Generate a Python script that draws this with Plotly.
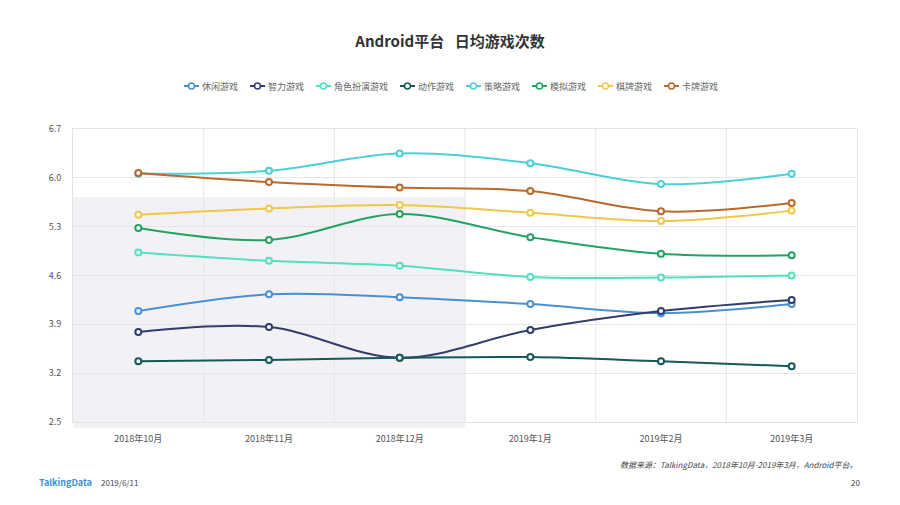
import plotly.graph_objects as go

months = ["2018年10月", "2018年11月", "2018年12月", "2019年1月", "2019年2月", "2019年3月"]

casual = [4.09, 4.33, 4.29, 4.19, 4.06, 4.19]        # 休闲游戏
puzzle = [3.79, 3.86, 3.42, 3.82, 4.09, 4.25]        # 智力游戏
rpg = [4.93, 4.81, 4.74, 4.58, 4.57, 4.60]           # 角色扮演游戏
action = [3.37, 3.39, 3.42, 3.43, 3.37, 3.30]        # 动作游戏
strategy = [6.06, 6.10, 6.35, 6.21, 5.91, 6.06]      # 策略游戏
simulation = [5.28, 5.11, 5.48, 5.15, 4.91, 4.89]    # 模拟游戏
board = [5.47, 5.56, 5.61, 5.50, 5.38, 5.53]         # 棋牌游戏
card = [6.07, 5.94, 5.86, 5.81, 5.52, 5.64]          # 卡牌游戏

series_names = ["休闲游戏", "智力游戏", "角色扮演游戏", "动作游戏", "策略游戏", "模拟游戏", "棋牌游戏", "卡牌游戏"]
series_values = [casual, puzzle, rpg, action, strategy, simulation, board, card]
colors = ["#4a8fd4", "#2f3e6b", "#52e0bf", "#16595a", "#4ccfd6", "#22a263", "#f0c84a", "#b9692d"]

y_ticks = [2.5, 3.2, 3.9, 4.6, 5.3, 6.0, 6.7]
shade_top = 5.725

FONT = "Noto Sans CJK SC"
W, H = 900, 505
L, R, T, B = 73, 43, 129, 83
PW, PH = W - L - R, H - T - B


def px_x(px):
    return (px - L) / PW


def px_y(py):
    return (H - B - py) / PH


def dx(p):
    return p / PW


def dy(p):
    return p / PH


fig = go.Figure()
for name, vals, c in zip(series_names, series_values, colors):
    fig.add_trace(go.Scatter(
        x=months, y=vals, name=name, mode="lines+markers",
        line=dict(color=c, width=2, shape="spline", smoothing=1),
        marker=dict(size=6, color="white", line=dict(color=c, width=2)),
        showlegend=False,
    ))

fig.add_shape(type="rect", xref="x", yref="paper", x0=-0.5, x1=2.5, y0=-0.02,
              y1=(shade_top - y_ticks[0]) / (y_ticks[-1] - y_ticks[0]),
              fillcolor="#f2f1f5", line=dict(width=0), layer="below")

fig.update_layout(
    width=W, height=H,
    margin=dict(l=L, r=R, t=T, b=B),
    paper_bgcolor="white", plot_bgcolor="white",
    font=dict(family=FONT, size=9, color="#666"),
    title=dict(text="<b>Android平台\u2002\u2009日均游戏次数</b>", x=0.5, xanchor="center",
               y=1 - 42 / H, yanchor="middle", font=dict(family=FONT, size=15, color="#333")),
    showlegend=False,
)
fig.update_xaxes(
    type="category", range=[-0.5, 5.5], showgrid=False,
    showline=True, linecolor="#e3e3e3", mirror=True, ticks="", ticklabelstandoff=8,
    tickfont=dict(family=FONT, size=9, color="#555"),
)
for i in range(len(months) - 1):
    fig.add_shape(type="line", xref="x", yref="paper", x0=i + 0.5, x1=i + 0.5, y0=0, y1=1,
                  line=dict(color="#e6e6e6", width=1), layer="below")
fig.update_yaxes(
    range=[y_ticks[0], y_ticks[-1]], tickvals=y_ticks, ticktext=[f"{v:.1f}" for v in y_ticks],
    showgrid=True, gridcolor="#e6e6e6", gridwidth=1, zeroline=False,
    showline=True, linecolor="#e3e3e3", mirror=True, ticks="", ticklabelstandoff=9,
    tickfont=dict(family=FONT, size=9, color="#555"),
)

# custom compact legend (centered row)
LEG_FS = 9
SYM_W, SYM_GAP, ITEM_GAP = 15, 3, 12
widths = [SYM_W + SYM_GAP + LEG_FS * len(n) for n in series_names]
total = sum(widths) + ITEM_GAP * (len(widths) - 1)
cx = 451 - total / 2
ly = px_y(86)
for name, c, w in zip(series_names, colors, widths):
    fig.add_shape(type="line", xref="paper", yref="paper", x0=px_x(cx), x1=px_x(cx + SYM_W), y0=ly, y1=ly,
                  line=dict(color=c, width=2))
    mx = px_x(cx + SYM_W / 2)
    fig.add_shape(type="circle", xref="paper", yref="paper", x0=mx - dx(3), x1=mx + dx(3),
                  y0=ly - dy(3), y1=ly + dy(3), fillcolor="white", line=dict(color=c, width=1.6))
    fig.add_annotation(text=name, xref="paper", yref="paper", x=px_x(cx + SYM_W + SYM_GAP), xanchor="left",
                       y=ly, yanchor="middle", showarrow=False, xshift=-2,
                       font=dict(family=FONT, size=LEG_FS, color="#666"))
    cx += w + ITEM_GAP

fig.add_annotation(text="<i>数据来源：TalkingData，2018年10月-2019年3月，Android平台。</i>",
                   xref="paper", yref="paper", x=px_x(860), xanchor="right", y=px_y(464), yanchor="middle",
                   showarrow=False, font=dict(family=FONT, size=8, color="#444"))
fig.add_annotation(text="<b>TalkingData</b>", xref="paper", yref="paper", x=px_x(37), xanchor="left",
                   y=px_y(482), yanchor="middle", showarrow=False,
                   font=dict(family=FONT, size=9, color="#3a90d6"))
fig.add_annotation(text="2019/6/11", xref="paper", yref="paper", x=px_x(99), xanchor="left",
                   y=px_y(482), yanchor="middle", showarrow=False,
                   font=dict(family=FONT, size=8, color="#444"))
fig.add_annotation(text="20", xref="paper", yref="paper", x=px_x(862), xanchor="right",
                   y=px_y(482), yanchor="middle", showarrow=False,
                   font=dict(family=FONT, size=8, color="#444"))

fig.write_html("out.html", config={"displayModeBar": False},
               post_script="document.body.style.margin='0';")
